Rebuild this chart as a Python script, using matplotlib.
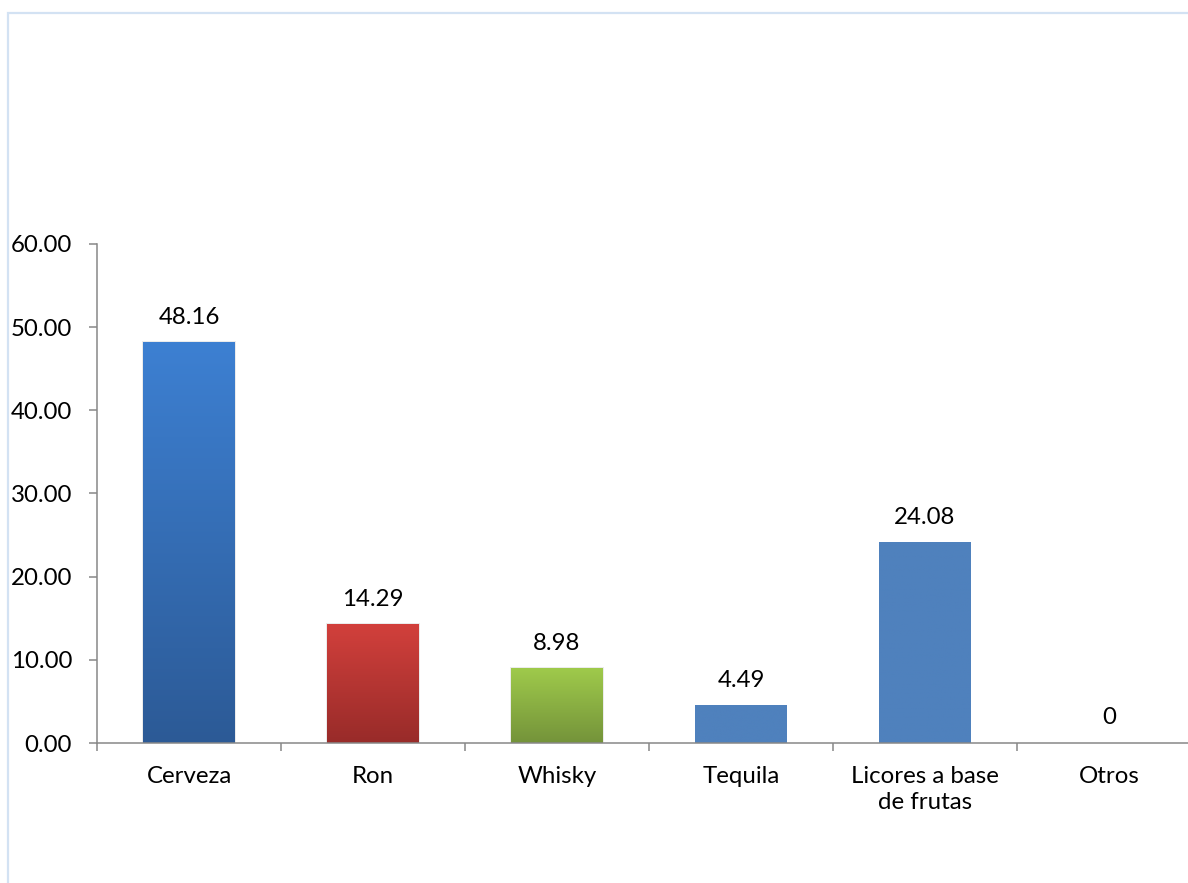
import numpy as np
import matplotlib.pyplot as plt
from matplotlib.patches import Rectangle
from matplotlib.colors import LinearSegmentedColormap

categories = ["Cerveza", "Ron", "Whisky", "Tequila", "Licores a base\nde frutas", "Otros"]
values = [48.16, 14.29, 8.98, 4.49, 24.08, 0]
value_labels = ["48.16", "14.29", "8.98", "4.49", "24.08", "0"]
# (top colour, bottom colour) for each bar
bar_colors = [("#3d80d2", "#2c5a96"), ("#d2403c", "#982b29"), ("#9fca4b", "#74933a"),
              ("#4f81bd", "#4f81bd"), ("#4f81bd", "#4f81bd"), ("#4f81bd", "#4f81bd")]
y_ticks = [0, 10, 20, 30, 40, 50, 60]

plt.rcParams['font.family'] = ['Lato', 'DejaVu Sans']
FS = 17.3

W, H = 1188, 883
fig = plt.figure(figsize=(W / 100, H / 100), dpi=100)
ax = fig.add_axes([97 / W, 1 - 743 / H, 1104 / W, 499 / H])

x = np.arange(len(categories))
bars = ax.bar(x, values, width=0.5, color="none", zorder=2)

grad = np.linspace(0, 1, 256).reshape(-1, 1)
for b, (top, bottom) in zip(bars, bar_colors):
    if b.get_height() <= 0:
        continue
    cmap = LinearSegmentedColormap.from_list("g", [bottom, top])
    x0 = b.get_x()
    if top != bottom:
        # soft shadow on the gradient bars
        ax.add_patch(Rectangle((x0 - 0.006, 0), b.get_width() + 0.012, b.get_height() + 0.15,
                               color="#000000", alpha=0.08, lw=0, zorder=1))
    ax.imshow(grad, cmap=cmap, origin="lower", aspect="auto",
              extent=[x0, x0 + b.get_width(), 0, b.get_height()], zorder=2)

for xi, v, lab in zip(x, values, value_labels):
    ax.annotate(lab, (xi, v), xytext=(0, 10.5), textcoords="offset points",
                ha="center", va="bottom", fontsize=FS, color="#000000")

ax.set_xlim(-0.5, len(categories) - 0.5)
ax.set_ylim(0, 60)
ax.set_yticks(y_ticks)
ax.set_yticklabels([f"{t:.2f}" for t in y_ticks])
ax.set_xticks(x)
ax.set_xticklabels(categories, linespacing=1.3)
ax.set_xticks(np.arange(len(categories) + 1) - 0.5, minor=True)

for s in ["top", "right"]:
    ax.spines[s].set_visible(False)
for s in ["left", "bottom"]:
    ax.spines[s].set_color("#888888")
    ax.spines[s].set_linewidth(1.1)

ax.tick_params(axis="y", length=6, width=1.1, color="#888888", pad=12, labelsize=FS)
ax.tick_params(axis="x", which="major", length=0, pad=16.5, labelsize=FS)
ax.tick_params(axis="x", which="minor", length=6, width=1.1, color="#888888")
ax.set_facecolor("none")

# chart area border
fig.patches.append(Rectangle((7.5 / W, -0.1), 1.2, 1 - 12.5 / H + 0.1, transform=fig.transFigure,
                             fill=False, edgecolor="#d3e2f3", lw=1.6, zorder=0))

fig.savefig("out.png", dpi=100)
